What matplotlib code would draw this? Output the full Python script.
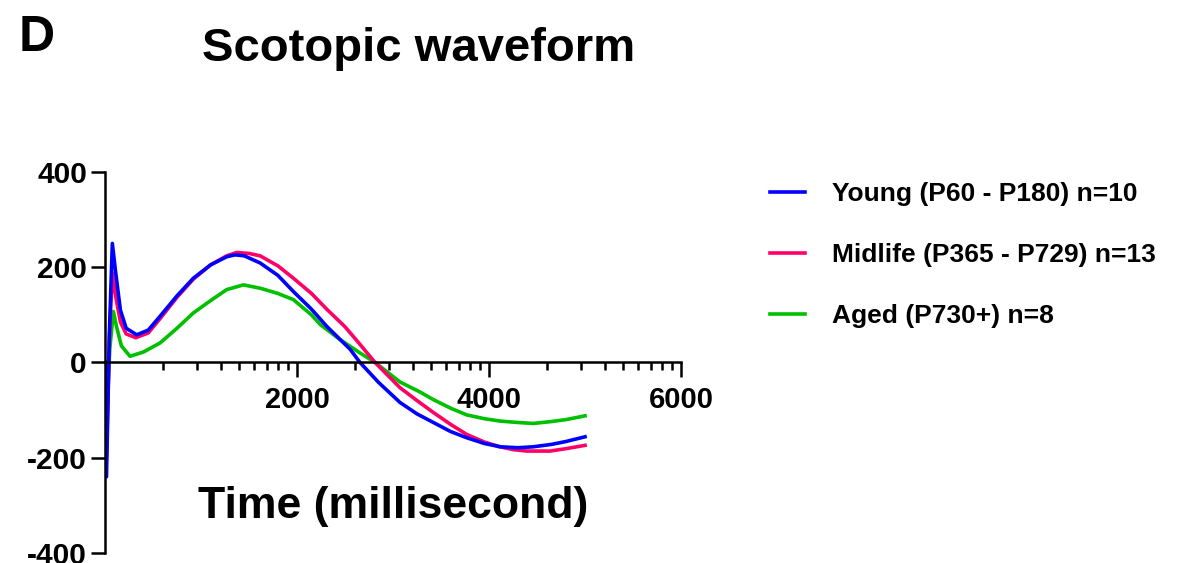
import numpy as np
import matplotlib
matplotlib.use("Agg")
import matplotlib.pyplot as plt

plt.rcParams['font.family'] = ['Liberation Sans', 'DejaVu Sans']
plt.rcParams['font.weight'] = 'bold'
plt.rcParams['axes.unicode_minus'] = False

# datos (ms, uV)
t_young = [0, 15, 45, 76, 110, 160, 220, 330, 450, 573, 750, 920, 1100, 1267, 1354, 1450,
           1615, 1800, 1962, 2150, 2309, 2450, 2552, 2656, 2850, 3073, 3250, 3420, 3600,
           3767, 3950, 4115, 4300, 4462, 4650, 4800, 5000]
v_young = [0, -240, 60, 250, 190, 110, 72, 58, 68, 97, 140, 177, 205, 222, 226, 224,
           209, 183, 149, 112, 76, 48, 28, 0, -42, -84, -108, -126, -145,
           -158, -170, -177, -179, -177, -172, -166, -156]

t_mid = [0, 15, 45, 76, 110, 160, 220, 320, 450, 573, 750, 920, 1100, 1267, 1372, 1500,
         1615, 1800, 1962, 2150, 2309, 2500, 2656, 2813, 2950, 3073, 3250, 3420,
         3600, 3767, 3950, 4115, 4250, 4392, 4635, 4800, 5000]
v_mid = [0, -200, 50, 188, 140, 85, 60, 52, 62, 92, 137, 175, 205, 224, 231, 229,
         224, 203, 177, 145, 112, 75, 38, 0, -28, -53, -80, -105,
         -130, -151, -167, -177, -183, -186, -186, -181, -174]

t_aged = [0, 20, 50, 87, 120, 170, 260, 400, 573, 750, 920, 1100, 1267, 1441, 1615, 1800,
          1962, 2150, 2240, 2448, 2656, 2813, 3073, 3281, 3420, 3600, 3767, 3950, 4115,
          4300, 4462, 4650, 4800, 5000]
v_aged = [0, -100, 30, 107, 75, 35, 13, 22, 41, 72, 104, 130, 153, 163, 156, 145,
          132, 100, 80, 48, 20, 0, -41, -62, -78, -96, -110, -118, -123,
          -126, -128, -124, -120, -112]

etiquetas = ['Young (P60 - P180) n=10', 'Midlife (P365 - P729) n=13', 'Aged (P730+) n=8']
colores = ['#0000FF', '#FF0066', '#00C000']

fig = plt.figure(figsize=(11.95, 5.63), dpi=100)
ax = fig.add_axes([0.0879, 0.0178, 0.482, 0.6767])

l3, = ax.plot(t_aged, v_aged, color=colores[2], lw=2.6)
l2, = ax.plot(t_mid, v_mid, color=colores[1], lw=2.6)
l1, = ax.plot(t_young, v_young, color=colores[0], lw=2.6)

ax.set_xlim(0, 6000)
ax.set_ylim(-400, 400)
ax.spines['top'].set_visible(False)
ax.spines['right'].set_visible(False)
ax.spines['bottom'].set_position(('data', 0))
ax.spines['left'].set_position(('data', 0))
for s in ['bottom', 'left']:
    ax.spines[s].set_linewidth(1.8)

ax.set_xticks([2000, 4000, 6000])
ax.set_yticks([-400, -200, 0, 200, 400])
# ticks menores tipo log en cada tramo de 2000
menores = []
for a in [0, 2000, 4000]:
    for k in range(2, 10):
        menores.append(a + 2000 * np.log10(k))
ax.set_xticks(menores, minor=True)
ax.tick_params(axis='x', which='major', direction='out', length=11, width=1.8,
               labelsize=21, pad=6)
ax.tick_params(axis='x', which='minor', direction='out', length=6, width=1.8)
ax.tick_params(axis='y', which='major', direction='out', length=10, width=1.8,
               labelsize=21.5, pad=3)
for lab in ax.get_xticklabels() + ax.get_yticklabels():
    lab.set_fontweight('bold')

fig.text(0.329, 0.0995, 'Time (millisecond)', fontsize=32, fontweight='bold',
         ha='center', va='center')
fig.text(0.350, 0.913, 'Scotopic waveform', fontsize=34, fontweight='bold',
         ha='center', va='center')
fig.text(0.031, 0.932, 'D', fontsize=36, fontweight='bold', ha='center', va='center')

ax.legend([l1, l2, l3], etiquetas, loc='upper left', bbox_to_anchor=(0.644, 0.677),
          bbox_transform=fig.transFigure, frameon=False,
          handlelength=1.35, handletextpad=1.0, labelspacing=1.4, borderpad=0,
          borderaxespad=0, prop={'weight': 'bold', 'size': 19})

fig.savefig('out.png', dpi=100)
